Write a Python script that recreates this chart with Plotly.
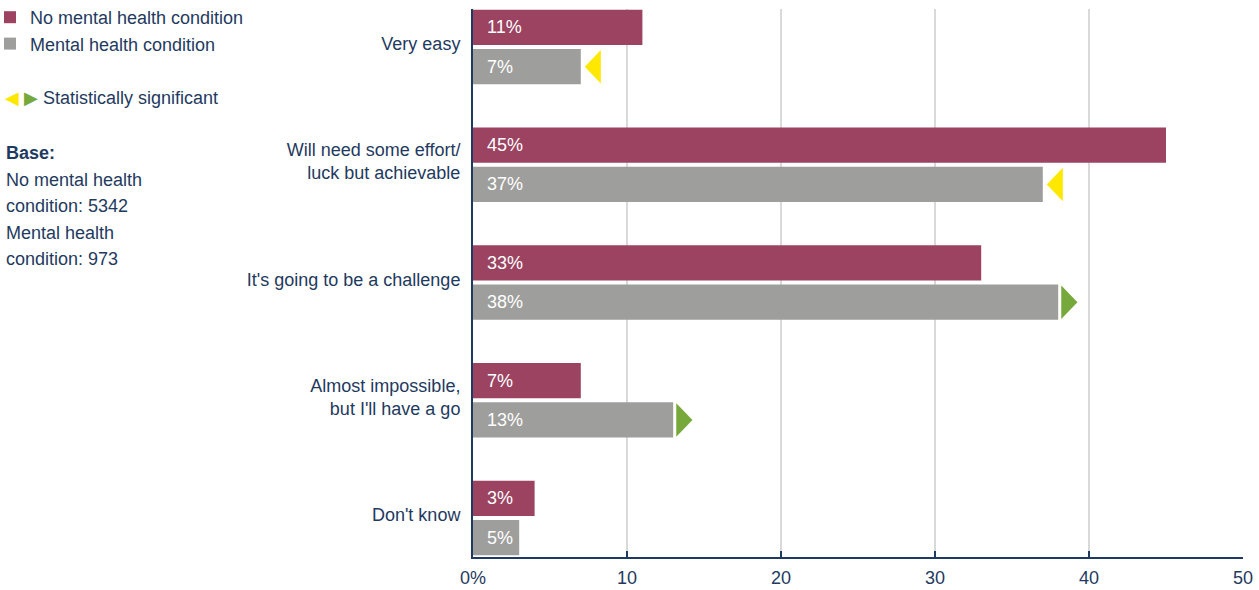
import plotly.graph_objects as go

# ---- data ----
categories = ["Very easy", "Will need some effort/<br>luck but achievable",
              "It's going to be a challenge", "Almost impossible,<br>but I'll have a go",
              "Don't know"]
no_mh_values = [11, 45, 33, 7, 4]
mh_values = [7, 37, 38, 13, 3]
no_mh_labels = ["11%", "45%", "33%", "7%", "3%"]
mh_labels = ["7%", "37%", "38%", "13%", "5%"]
# significance marker for the "Mental health condition" bar: -1 lower (yellow), +1 higher (green), 0 none
mh_significance = [-1, -1, 1, 1, 0]
x_tickvals = [0, 10, 20, 30, 40, 50]
x_ticktext = ["0%", "10", "20", "30", "40", "50"]
series_names = ["No mental health condition", "Mental health condition"]
base_lines = ["<b>Base:</b>", "No mental health", "condition: 5342", "Mental health", "condition: 973"]

# ---- style ----
MAROON = "#9B4361"
GREY = "#9E9E9C"
YELLOW = "#FFE800"
GREEN = "#77A83B"
NAVY = "#1F3A60"
FONT = "Arial, Liberation Sans, sans-serif"
FS = 18

W, H = 1259, 590
ML, MR, MT, MB = 473, 16, 9, 33
PW, PH = W - ML - MR, H - MT - MB


def px_x(px):
    return (px - ML) / PW


def px_y(py):
    return (H - MB - py) / PH


positions = list(range(len(categories)))
BAR_W = 0.30
GAP = 0.017
LABEL_LIFT = 0.028  # category labels sit slightly above the group centre

fig = go.Figure()
fig.add_trace(go.Bar(
    y=positions, x=no_mh_values, orientation="h", name=series_names[0],
    marker=dict(color=MAROON, line=dict(width=0)), width=BAR_W, offset=-(BAR_W + GAP),
    hoverinfo="x+y"))
fig.add_trace(go.Bar(
    y=positions, x=mh_values, orientation="h", name=series_names[1],
    marker=dict(color=GREY, line=dict(width=0)), width=BAR_W, offset=GAP,
    hoverinfo="x+y"))

annotations = []
# bar labels
for p, lab in zip(positions, no_mh_labels):
    annotations.append(dict(x=0, y=p - GAP - BAR_W / 2, xref="x", yref="y", text=lab,
                            showarrow=False, xanchor="left", xshift=12,
                            font=dict(family=FONT, size=FS, color="white")))
for p, lab in zip(positions, mh_labels):
    annotations.append(dict(x=0, y=p + GAP + BAR_W / 2, xref="x", yref="y", text=lab,
                            showarrow=False, xanchor="left", xshift=12,
                            font=dict(family=FONT, size=FS, color="white")))

# significance triangles
shapes = []
for p, v, s in zip(positions, mh_values, mh_significance):
    if s == 0:
        continue
    yc = p + GAP + BAR_W / 2
    h = 0.142
    if s < 0:
        tip, base = v + 0.26, v + 1.30
        color = YELLOW
    else:
        base, tip = v + 0.20, v + 1.25
        color = GREEN
    path = f"M {base} {yc - h} L {tip} {yc} L {base} {yc + h} Z"
    shapes.append(dict(type="path", path=path, xref="x", yref="y",
                       fillcolor=color, line=dict(width=0), layer="above"))

# significance key
annotations.append(dict(
    x=px_x(3), y=px_y(98), xref="paper", yref="paper",
    text=f"<span style='color:{YELLOW}'>◀</span> <span style='color:{GREEN}'>▶</span> Statistically significant",
    showarrow=False, xanchor="left", yanchor="middle",
    font=dict(family=FONT, size=FS, color=NAVY)))

# base text
for i, line in enumerate(base_lines):
    annotations.append(dict(
        x=px_x(4), y=px_y(153 + 26.5 * i), xref="paper", yref="paper",
        text=line, showarrow=False, xanchor="left", yanchor="middle",
        font=dict(family=FONT, size=FS, color=NAVY)))

fig.update_layout(
    width=W, height=H,
    margin=dict(l=ML, r=MR, t=MT, b=MB, autoexpand=False),
    plot_bgcolor="white", paper_bgcolor="white",
    barmode="overlay",
    font=dict(family=FONT, size=FS, color=NAVY),
    showlegend=True,
    legend=dict(x=px_x(-10), y=px_y(-1),
                xanchor="left", yanchor="top", tracegroupgap=0,
                font=dict(family=FONT, size=FS, color=NAVY), traceorder="normal",
                bgcolor="rgba(0,0,0,0)", itemclick=False, itemdoubleclick=False),
    annotations=annotations,
    shapes=shapes,
)
fig.update_xaxes(
    range=[0, 50], tickvals=x_tickvals, ticktext=x_ticktext, automargin=False,
    showgrid=True, gridcolor="#D9D9D9", gridwidth=1.5,
    showline=True, linecolor=NAVY, linewidth=2,
    ticks="inside", ticklen=6, tickwidth=2, tickcolor=NAVY, ticklabelstandoff=3,
    tickfont=dict(family=FONT, size=FS, color=NAVY), zeroline=False, fixedrange=True)
fig.update_yaxes(
    range=[4.331, -0.323], tickvals=[p - LABEL_LIFT for p in positions], ticktext=categories,
    automargin=False,
    showgrid=False, showline=True, linecolor=NAVY, linewidth=2,
    ticks="", ticklabelstandoff=7,
    tickfont=dict(family=FONT, size=FS, color=NAVY), zeroline=False, fixedrange=True)

fig.write_html("out.html", config={"displayModeBar": False},
               post_script="document.body.style.margin='0';document.body.style.padding='0';")
